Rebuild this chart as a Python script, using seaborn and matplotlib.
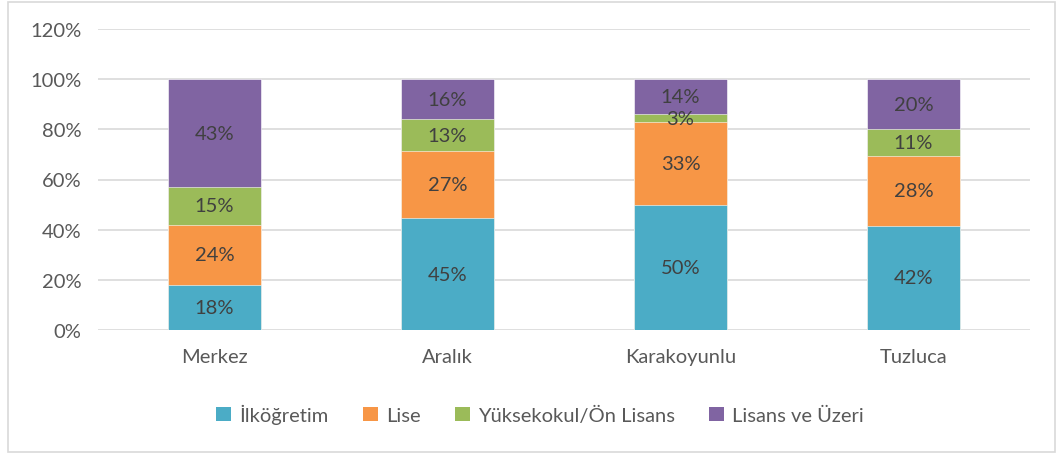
import numpy as np
import pandas as pd
import seaborn as sns
import matplotlib.pyplot as plt
from matplotlib.patches import Rectangle, Patch

districts = ['Merkez', 'Aralık', 'Karakoyunlu', 'Tuzluca']
ilkogretim = [18, 45, 50, 42]
lise = [24, 27, 33, 28]
yuksekokul = [15, 13, 3, 11]
lisans = [43, 16, 14, 20]
series_names = ['İlköğretim', 'Lise', 'Yüksekokul/Ön Lisans', 'Lisans ve Üzeri']
colors = ['#4BACC6', '#F79646', '#9BBB59', '#8064A2']

sns.set_style('white')
plt.rcParams['font.family'] = ['Lato', 'DejaVu Sans']
text_col = '#595959'

df = pd.DataFrame({'district': districts, series_names[0]: ilkogretim,
                   series_names[1]: lise, series_names[2]: yuksekokul,
                   series_names[3]: lisans})
vals = df[series_names].to_numpy(dtype=float)
shares = vals / vals.sum(axis=1, keepdims=True)
cum = np.cumsum(shares, axis=1)

fig = plt.figure(figsize=(10.64, 4.56), dpi=100)
ax = fig.add_axes([98 / 1064, 1 - 331 / 456, 932 / 1064, 301 / 456])

# draw tallest cumulative layer first so lower layers sit on top
for i in range(3, -1, -1):
    sns.barplot(x=df['district'], y=cum[:, i], color=colors[i], width=0.4,
                saturation=1, ax=ax, zorder=3, edgecolor='#FFFFFF', linewidth=0.4)

# labels at the middle of each segment
for j in range(len(districts)):
    bottom = 0
    for i in range(4):
        mid = bottom + shares[j, i] / 2
        ax.text(j, mid, f'{int(vals[j, i])}%', ha='center', va='center',
                fontsize=14.5, color='#404040', zorder=5)
        bottom = cum[j, i]

ax.set_ylim(0, 1.2)
ax.set_xlim(-0.5, 3.5)
ax.set_yticks(np.arange(0, 1.21, 0.2))
ax.set_yticklabels([f'{int(round(t * 100))}%' for t in np.arange(0, 1.21, 0.2)])
ax.yaxis.grid(True, color='#D9D9D9', linewidth=1.2, zorder=0)
ax.set_axisbelow(True)
for s in ax.spines.values():
    s.set_visible(False)
ax.set_xlabel('')
ax.set_ylabel('')
ax.tick_params(axis='both', length=0, labelsize=14.5, colors=text_col)
ax.tick_params(axis='x', pad=13)
ax.tick_params(axis='y', pad=12)

handles = [Patch(facecolor=c, edgecolor='none') for c in colors]
fig.legend(handles, series_names, loc='center', bbox_to_anchor=(540 / 1064, 1 - 415 / 456),
           ncol=4, frameon=False, fontsize=14.5, handlelength=0.75, handleheight=0.75,
           handletextpad=0.4, columnspacing=1.7, labelcolor=text_col)

fig.patches.append(Rectangle((8 / 1064, 3 / 456), 1047 / 1064, 450 / 456,
                             transform=fig.transFigure, fill=False,
                             edgecolor='#D9D9D9', linewidth=1.2))

fig.savefig('out.png', dpi=100)
